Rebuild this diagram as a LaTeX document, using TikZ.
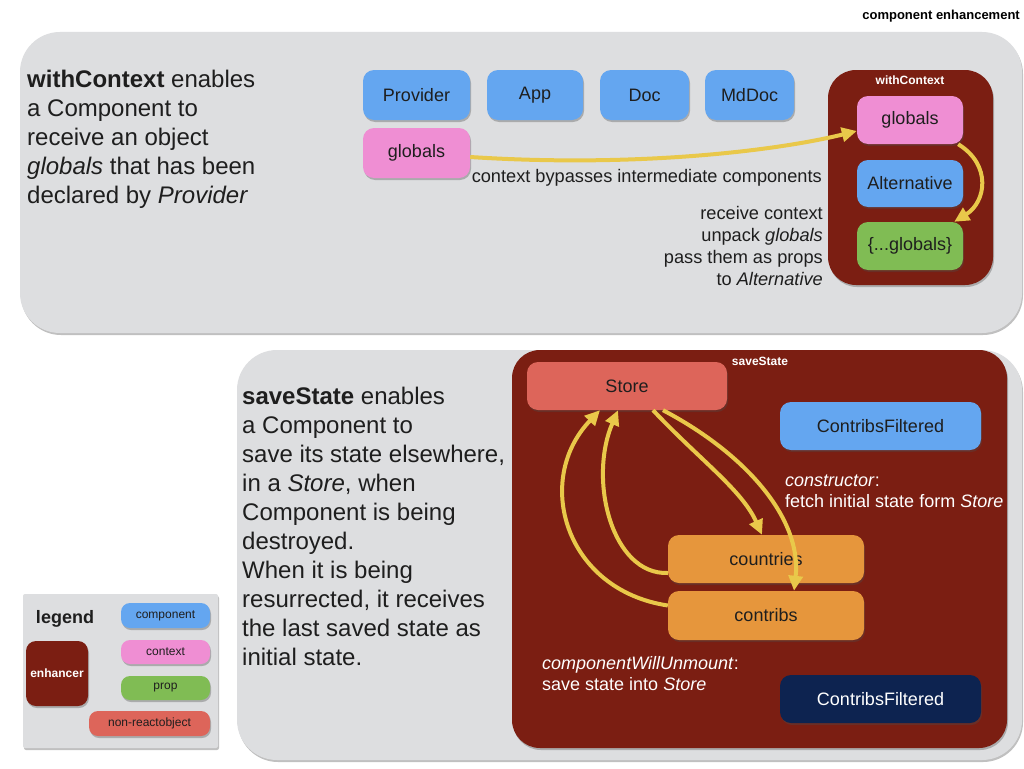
\documentclass[tikz,border=0pt]{standalone}
\usepackage{fontspec}
\setmainfont{Liberation Sans}
\usetikzlibrary{arrows.meta,shadows}
\definecolor{panelgray}{RGB}{221,222,224}
\definecolor{enhred}{RGB}{123,30,18}
\definecolor{cblue}{RGB}{100,166,240}
\definecolor{cpink}{RGB}{239,142,211}
\definecolor{cgreen}{RGB}{128,188,84}
\definecolor{csalmon}{RGB}{221,101,90}
\definecolor{corange}{RGB}{230,150,60}
\definecolor{cnavy}{RGB}{13,35,80}
\definecolor{ayellow}{RGB}{233,200,74}
\definecolor{txt}{RGB}{30,30,30}
\tikzset{
  softshadow/.style={drop shadow={shadow xshift=1pt,shadow yshift=-2pt,opacity=.35,fill=black!70}},
  panel/.style={fill=panelgray,rounded corners=40pt,softshadow},
  enh/.style={fill=enhred,rounded corners=28pt,softshadow,inner sep=0pt},
  box/.style={rounded corners=11pt,inner sep=0pt,text=txt,font=\fontsize{18}{20}\selectfont,softshadow},
  lbox/.style={rounded corners=9pt,inner sep=0pt,text=txt,font=\fontsize{12}{14}\selectfont,softshadow},
  para/.style={inner sep=0pt,text=txt,align=left,font=\fontsize{24}{29}\selectfont},
  note/.style={inner sep=0pt,text=txt,font=\fontsize{18.2}{22}\selectfont},
  wnote/.style={inner sep=0pt,text=white,align=left,font=\fontsize{18}{21}\selectfont},
  tag/.style={inner sep=0pt,text=white,font=\bfseries\fontsize{12}{14}\selectfont},
  arr/.style={draw=ayellow,line width=4pt,-{Triangle[length=15pt,width=14pt]}}
}
\begin{document}
\begin{tikzpicture}[x=1pt,y=-1pt]
\useasboundingbox (0,0) rectangle (1024,768);
\fill[white] (0,0) rectangle (1024,768);

\node[anchor=east,inner sep=0pt,font=\bfseries\fontsize{13}{15}\selectfont] (title) at (1020,16) {component enhancement};

% top panel
\fill[panel] (20,32) rectangle (1022,333);
\node[para,anchor=north west] (p1) at (27,70) {\textbf{withContext} enables\\a Component to\\receive an object\\\textit{globals} that has been\\declared by \textit{Provider}};

\node[box,fill=cblue,minimum width=107pt,minimum height=50pt] (prov) at (416.5,95) {Provider};
\node[box,fill=cblue,minimum width=96pt,minimum height=50pt] (app) at (535,95) {App};
\node[box,fill=cblue,minimum width=89pt,minimum height=50pt] (doc) at (644.5,95) {Doc};
\node[box,fill=cblue,minimum width=89pt,minimum height=50pt] (mddoc) at (749.5,95) {MdDoc};
\node[box,fill=cpink,minimum width=107pt,minimum height=50pt] (glob) at (416.5,153) {globals};

\node[note,anchor=east] (bypass) at (822,178) {context bypasses intermediate components};
\node[note,anchor=north east,align=right] (recv) at (823,206) {receive context\\unpack \textit{globals}\\pass them as props\\to \textit{Alternative}};

\node[enh,minimum width=165pt,minimum height=215pt] (wc) at (910.5,177.5) {};
\node[tag] (wctag) at (910,80) {withContext};
\node[box,fill=cpink,minimum width=106pt,minimum height=48pt] (gctx) at (910,120) {globals};
\node[box,fill=cblue,minimum width=106pt,minimum height=47pt] (alt) at (910,183.5) {Alternative};
\node[box,fill=cgreen,minimum width=106pt,minimum height=48pt] (gspr) at (910,246) {\{...globals\}};

\draw[arr] ([yshift=-4pt]glob.east) .. controls (640,168) and (780,150) .. ([yshift=-11pt]gctx.west);
\draw[arr] ([xshift=-5pt]gctx.south east) .. controls (992,165) and (986,202) .. ([xshift=-9pt]gspr.north east);

% bottom panel
\fill[panel] (237,350) rectangle (1022,760);
\node[para,anchor=north west] (p2) at (242,387) {\textbf{saveState} enables\\a Component to\\save its state elsewhere,\\in a \textit{Store}, when\\Component is being\\destroyed.\\When it is being\\resurrected, it receives\\the last saved state as\\initial state.};

\node[enh,minimum width=495pt,minimum height=398pt] (ss) at (759.5,549) {};
\node[tag] (sstag) at (760,361) {saveState};
\node[box,fill=csalmon,minimum width=200pt,minimum height=48pt] (store) at (627,386) {Store};
\node[box,fill=cblue,minimum width=201pt,minimum height=48pt] (cf1) at (880.5,426) {ContribsFiltered};
\node[box,fill=corange,minimum width=196pt,minimum height=48pt] (countries) at (766,559) {countries};
\node[box,fill=corange,minimum width=196pt,minimum height=49pt] (contribs) at (766,615.5) {contribs};
\node[box,fill=cnavy,text=white,minimum width=201pt,minimum height=48pt] (cf2) at (880.5,699) {ContribsFiltered};

\node[wnote,anchor=north west] (ctor) at (785,475) {\textit{constructor}:\\fetch initial state form \textit{Store}};
\node[wnote,anchor=north west] (cwu) at (542,656) {\textit{componentWillUnmount}:\\save state into \textit{Store}};

\draw[arr] ([xshift=26pt]store.south) .. controls (700,460) and (742,490) .. ([xshift=-4pt]countries.north);
\draw[arr] ([xshift=36pt]store.south) .. controls (748,455) and (802,520) .. ([xshift=28pt]contribs.north);
\draw[arr] ([yshift=-14pt]countries.west) .. controls (612,575) and (588,480) .. ([xshift=-9pt]store.south);
\draw[arr] ([yshift=10pt]contribs.west) .. controls (565,590) and (533,480) .. ([xshift=-27pt]store.south);

% legend
\fill[panelgray,rounded corners=2pt,softshadow] (23,594) rectangle (218,748);
\node[inner sep=0pt,text=txt,font=\bfseries\fontsize{18}{20}\selectfont] (leg) at (65,619) {legend};
\node[fill=enhred,rounded corners=10pt,inner sep=0pt,minimum width=62pt,minimum height=65pt,softshadow,text=white,font=\bfseries\fontsize{12}{14}\selectfont] (lenh) at (57,673.5) {enhancer};
\node[lbox,fill=cblue,minimum width=89pt,minimum height=25pt] (lcomp) at (165.5,615.5) {component};
\node[lbox,fill=cpink,minimum width=89pt,minimum height=24pt] (lctx) at (165.5,652) {context};
\node[lbox,fill=cgreen,minimum width=89pt,minimum height=24pt] (lprop) at (165.5,688) {prop};
\node[lbox,fill=csalmon,minimum width=121pt,minimum height=25pt] (lnon) at (149.5,723.5) {non-reactobject};
\end{tikzpicture}
\end{document}
